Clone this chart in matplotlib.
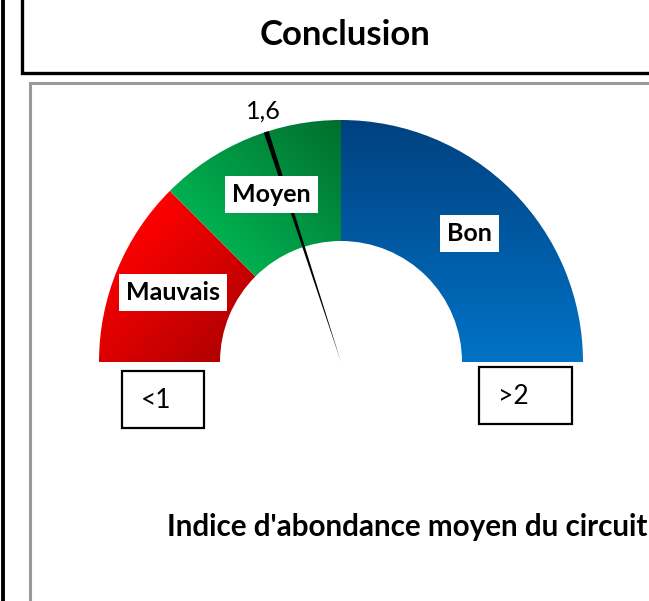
"""Gauge chart: Indice d'abondance moyen du circuit."""

import matplotlib
matplotlib.use("Agg")
import matplotlib.pyplot as plt
import numpy as np
from matplotlib.colors import to_rgb
from matplotlib.patches import Rectangle, Wedge

plt.rcParams["font.family"] = ["Lato", "DejaVu Sans"]

# data
categories = ["Mauvais", "Moyen", "Bon"]
segment_values = [1, 1, 2]
needle_value = 1.6
needle_label = "1,6"
min_label = "<1"
max_label = ">2"
title = "Conclusion"
chart_title = "Indice d'abondance moyen du circuit"

# gradient colours per segment (start, end) and gradient direction
grad_colors = [("#FF0000", "#B00000"), ("#00B050", "#006E2E"), ("#00417F", "#0072C6")]
grad_dirs = [(1, -1), (1, 1), (0, -1)]

W, H = 649, 601
CX, CY, R = 341, 362, 242  # gauge centre and outer radius in pixels
INNER = 0.5

fig = plt.figure(figsize=(W / 100, H / 100), dpi=100)

# background axes in pixel coordinates
bg = fig.add_axes([0, 0, 1, 1])
bg.set_xlim(0, W)
bg.set_ylim(H, 0)
bg.axis("off")
bg.plot([2.5, 2.5], [0, H], color="black", lw=2.8, solid_capstyle="butt")
bg.plot([21.5, 21.5, W + 5], [-5, 72.5, 72.5], color="black", lw=2.4,
        solid_joinstyle="miter")
bg.plot([29.5, 29.5, W + 5], [H + 5, 83, 83], color="#999999", lw=2.2,
        solid_joinstyle="miter")
bg.text(345, 35, title, ha="center", va="center", fontsize=25, fontweight="bold")
bg.add_patch(Rectangle((122, 371), 82, 57, fill=False, ec="black", lw=1.6))
bg.add_patch(Rectangle((479, 367), 93, 57, fill=False, ec="black", lw=1.6))
bg.text(156, 401, min_label, ha="center", va="center", fontsize=19)
bg.text(513, 396, max_label, ha="center", va="center", fontsize=19)
bg.text(167, 527, chart_title, ha="left", va="center", fontsize=21.3,
        fontweight="bold", clip_on=True)

# gauge axes: one data unit = R pixels, centre at (CX, CY)
ax = fig.add_axes([0, 0, 1, 1])
ax.set_xlim(-CX / R, (W - CX) / R)
ax.set_ylim(-(H - CY) / R, CY / R)
ax.axis("off")
ax.patch.set_alpha(0)

total = sum(segment_values) * 2  # half circle shows half of the total


def angle_of(v):
    return 180 - v / total * 360


start = 0
for cat, val, (c0, c1), (dx, dy) in zip(categories, segment_values, grad_colors, grad_dirs):
    th1, th2 = angle_of(start + val), angle_of(start)
    wedge = Wedge((0, 0), 1, th1, th2, width=1 - INNER, fc="none", ec="none")
    ax.add_patch(wedge)
    # gradient image clipped to the wedge
    xs = np.linspace(-1, 1, 500)
    ys = np.linspace(0, 1, 250)
    X, Y = np.meshgrid(xs, ys)
    th = np.radians(np.linspace(th1, th2, 50))
    px = np.concatenate([np.cos(th), INNER * np.cos(th)])
    py = np.concatenate([np.sin(th), INNER * np.sin(th)])
    proj = px * dx + py * dy
    t = (X * dx + Y * dy - proj.min()) / (proj.max() - proj.min())
    t = np.clip(t, 0, 1)[..., None]
    img = np.array(to_rgb(c0)) * (1 - t) + np.array(to_rgb(c1)) * t
    im = ax.imshow(img, extent=(-1, 1, 0, 1), origin="lower", interpolation="bilinear",
                   aspect="auto", zorder=1)
    im.set_clip_path(wedge)
    mid = np.radians((th1 + th2) / 2)
    rm = (1 + INNER) / 2
    ax.text(rm * np.cos(mid), rm * np.sin(mid), cat, ha="center", va="center",
            fontsize=18, fontweight="bold", zorder=4,
            bbox=dict(boxstyle="square,pad=0.28", fc="white", ec="none"))
    start += val

# needle
na = angle_of(needle_value)
ax.add_patch(Wedge((0, 0), 1.0, na - 0.6, na + 0.6, fc="black", ec="none", zorder=3))
ax.text(1.04 * np.cos(np.radians(na)), 1.04 * np.sin(np.radians(na)), needle_label,
        ha="center", va="bottom", fontsize=18, zorder=4)

fig.savefig("out.png", dpi=100)
